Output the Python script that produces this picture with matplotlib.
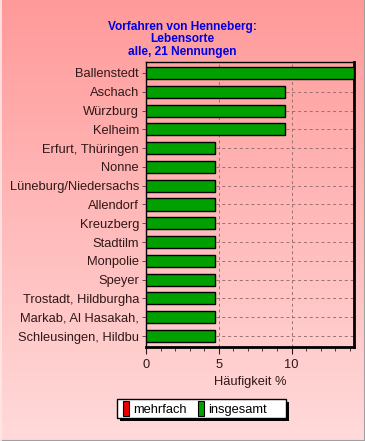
import matplotlib
matplotlib.use("Agg")
import matplotlib.pyplot as plt
import numpy as np
from matplotlib.patches import Patch, Rectangle
from matplotlib.colors import LinearSegmentedColormap

categories = ["Ballenstedt", "Aschach", "Würzburg", "Kelheim", "Erfurt, Thüringen",
              "Nonne", "Lüneburg/Niedersachs", "Allendorf", "Kreuzberg", "Stadtilm",
              "Monpolie", "Speyer", "Trostadt, Hildburgha", "Markab, Al Hasakah,",
              "Schleusingen, Hildbu"]
insgesamt = [14.29, 9.52, 9.52, 9.52, 4.76, 4.76, 4.76, 4.76, 4.76, 4.76,
             4.76, 4.76, 4.76, 4.76, 4.76]
xticks = [0, 5, 10]
title = "Vorfahren von Henneberg:\nLebensorte\nalle, 21 Nennungen"
xlabel = "Häufigkeit %"
legend_labels = ["mehrfach", "insgesamt"]

plt.rcParams['font.family'] = ['Liberation Sans', 'DejaVu Sans']

W, H = 365, 441
fig = plt.figure(figsize=(W / 100, H / 100), dpi=100)

# gradient background
bg = fig.add_axes([0, 0, 1, 1], zorder=-10)
cmap = LinearSegmentedColormap.from_list("bg", ["#FF9A9A", "#FFDADA"])
grad = np.linspace(0, 1, 256).reshape(-1, 1)
bg.imshow(grad, aspect="auto", cmap=cmap, extent=[0, 1, 0, 1], origin="upper")
bg.set_xlim(0, 1)
bg.set_ylim(0, 1)
bg.axis("off")
bg.plot([0, 1], [0.5 / H, 0.5 / H], color="#A0A0A0", lw=1.5, transform=bg.transAxes, clip_on=False)
bg.plot([1 - 0.5 / W, 1 - 0.5 / W], [0, 1], color="#A0A0A0", lw=1.5, transform=bg.transAxes, clip_on=False)
bg.plot([0.5 / W, 0.5 / W], [0, 1], color="#FFE8E8", lw=1.2, transform=bg.transAxes, clip_on=False)

# legend frame with shadow (pixel geometry)
lx0, lx1, ly0, ly1 = 117, 286, 399, 418
bg.add_patch(Rectangle(((lx0 + 3) / W, (H - ly1 - 3) / H), (lx1 - lx0) / W, (ly1 - ly0) / H,
                       facecolor="black", edgecolor="black", lw=0, transform=bg.transAxes, zorder=5))
bg.add_patch(Rectangle((lx0 / W, (H - ly1) / H), (lx1 - lx0) / W, (ly1 - ly0) / H,
                       facecolor="white", edgecolor="black", lw=1.0, transform=bg.transAxes, zorder=6))

left, right = 146 / W, 354 / W
bottom, top = (H - 347) / H, (H - 62) / H
ax = fig.add_axes([left, bottom, right - left, top - bottom])
ax.set_facecolor("none")

y = np.arange(len(categories))
ax.barh(y, insgesamt, height=0.64, color="#00A000", edgecolor="black", linewidth=1.0, zorder=3)
ax.set_yticks(y)
ax.set_yticklabels(categories, fontsize=9.3, color="#301818")
ax.set_ylim(len(categories) - 1 + 0.585, -0.585)
ax.set_xlim(0, 14.29)
ax.set_xticks(xticks)
ax.set_xticks(np.arange(0, 15, 1), minor=True)
ax.tick_params(axis="x", which="major", length=5, width=0.8, labelsize=9.3, colors="#301818", pad=4)
ax.tick_params(axis="x", which="minor", length=3, width=0.6, colors="#301818")
ax.tick_params(axis="y", length=3, width=0.6, colors="#404040", labelcolor="#301818", pad=2)

ax.grid(True, axis="both", which="major", linestyle=(0, (3, 3)), color="#9a7070", linewidth=0.7, zorder=1)
ax.set_axisbelow(True)

for s in ["top", "left"]:
    ax.spines[s].set_linewidth(1.0)
for s in ["bottom", "right"]:
    ax.spines[s].set_linewidth(2.0)
for s in ax.spines.values():
    s.set_color("black")

ax.set_xlabel(xlabel, fontsize=9.3, color="#301818", labelpad=3)

fig.text(0.5, (H - 21) / H, title, ha="center", va="top", fontsize=8.6, fontweight="bold",
         color="#0000E0", linespacing=1.05)

handles = [Patch(facecolor="#EE0000", edgecolor="black", linewidth=0.8),
           Patch(facecolor="#00A000", edgecolor="black", linewidth=0.8)]
leg = fig.legend(handles, legend_labels, loc="center left",
                 bbox_to_anchor=(lx0 / W, (H - (ly0 + ly1) / 2) / H),
                 ncol=2, fontsize=9.3, frameon=False, borderaxespad=0, borderpad=0.45,
                 handlelength=0.45, handleheight=1.45, handletextpad=0.35, columnspacing=0.9)

fig.savefig("out.png", dpi=100)
